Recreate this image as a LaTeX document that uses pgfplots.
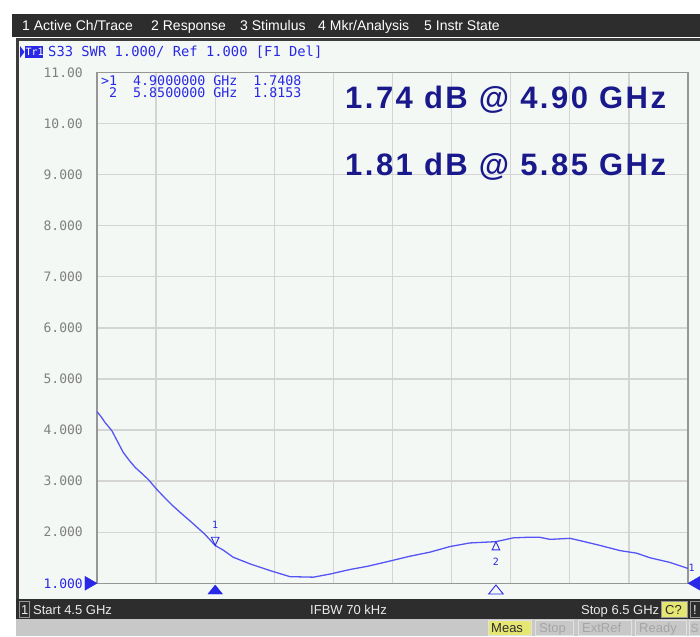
\documentclass[border=0pt]{standalone}
\usepackage{pgfplots}
\pgfplotsset{compat=1.18}
\usepackage{fontspec}
\setmainfont{Liberation Sans}
\newfontfamily\mono{DejaVu Sans Mono}
\newfontfamily\bigf[LetterSpace=8]{Liberation Sans}
\definecolor{winbg}{RGB}{244,248,244}
\definecolor{barc}{RGB}{45,45,45}
\definecolor{winframe}{RGB}{60,60,60}
\definecolor{tracec}{RGB}{85,85,245}
\definecolor{navy}{RGB}{25,25,140}
\definecolor{bluetxt}{RGB}{40,40,230}
\definecolor{gridc}{RGB}{212,212,212}
\definecolor{framec}{RGB}{150,150,150}
\definecolor{labelgray}{RGB}{128,128,128}
\definecolor{yel}{RGB}{230,230,115}
\definecolor{graybar}{RGB}{200,200,200}
\definecolor{btnborder}{RGB}{225,225,225}
\definecolor{btntext}{RGB}{165,165,165}
\definecolor{stattext}{RGB}{235,235,235}

\pgfplotstableread{
f v
4.500 4.36
4.514 4.26
4.527 4.15
4.550 3.99
4.570 3.77
4.589 3.56
4.610 3.40
4.629 3.27
4.650 3.16
4.674 3.03
4.702 2.84
4.730 2.67
4.758 2.51
4.787 2.36
4.815 2.22
4.840 2.09
4.865 1.96
4.900 1.74
4.927 1.65
4.961 1.51
5.018 1.38
5.085 1.25
5.153 1.13
5.232 1.12
5.288 1.18
5.356 1.27
5.413 1.33
5.480 1.42
5.559 1.53
5.627 1.61
5.695 1.72
5.762 1.79
5.850 1.815
5.909 1.89
5.954 1.90
5.999 1.90
6.033 1.86
6.101 1.88
6.146 1.82
6.203 1.74
6.270 1.64
6.326 1.59
6.371 1.50
6.438 1.41
6.500 1.29
}\swrdata

\begin{document}
\begin{tikzpicture}[x=1pt,y=1pt]
\useasboundingbox (0,0) rectangle (700,636);
\fill[white] (0,0) rectangle (700,636);
% menu bar
\fill[barc] (12,599) rectangle (700,622);
\begin{scope}[every node/.style={anchor=base west, inner sep=0pt, text=white, font=\fontsize{14}{14}\selectfont}]
\node at (22,605) {1 Active Ch/Trace};
\node at (151,605) {2 Response};
\node at (240,605) {3 Stimulus};
\node at (318,605) {4 Mkr/Analysis};
\node at (424,605) {5 Instr State};
\end{scope}
% window
\fill[winbg] (16,37) rectangle (700,597);
\draw[winframe, line width=3pt] (17.5,37) -- (17.5,596.5) -- (700,596.5);
% status bar
\fill[barc] (16,17) rectangle (700,37);
\fill[graybar] (16,0) rectangle (700,17);
\begin{scope}[every node/.style={anchor=base west, inner sep=0pt, text=stattext, font=\fontsize{13}{13}\selectfont}]
\draw[framec, fill=barc] (19,19) rectangle (29,35);
\node at (21,22) {1};
\node at (33,22) {Start 4.5 GHz};
\node at (310,22) {IFBW 70 kHz};
\node at (581,22) {Stop 6.5 GHz};
\end{scope}
\draw[framec, fill=yel] (661,19) rectangle (687,35);
\node[anchor=base west, inner sep=0pt, font=\fontsize{13}{13}\selectfont, text=barc] at (665,22) {C?};
\draw[framec, fill=barc] (690,19) rectangle (700,35);
\node[anchor=base west, inner sep=0pt, font=\fontsize{13}{13}\selectfont, text=stattext] at (693,22) {!};
% buttons
\draw[btnborder, fill=yel] (488,1) rectangle (531,16);
\node[anchor=base west, inner sep=0pt, font=\fontsize{13}{13}\selectfont, text=barc] at (491,4) {Meas};
\draw[btnborder] (535,1) rectangle (573,16);
\node[anchor=base west, inner sep=0pt, font=\fontsize{13}{13}\selectfont, text=btntext] at (539,4) {Stop};
\draw[btnborder] (578,1) rectangle (631,16);
\node[anchor=base west, inner sep=0pt, font=\fontsize{13}{13}\selectfont, text=btntext] at (582,4) {ExtRef};
\draw[btnborder] (635,1) rectangle (686,16);
\node[anchor=base west, inner sep=0pt, font=\fontsize{13}{13}\selectfont, text=btntext] at (639,4) {Ready};
\draw[btnborder] (689,1) rectangle (702,16);
\node[anchor=base west, inner sep=0pt, font=\fontsize{12}{12}\selectfont, text=btntext] at (690.5,4) {S};
% trace header
\fill[bluetxt] (20,578) -- (24.5,584) -- (20,590) -- cycle;
\fill[bluetxt] (25,578) rectangle (43,590);
\node[anchor=base west, inner sep=0pt, font=\mono\fontsize{10}{10}\selectfont, text=white] at (25.5,580) {Tr1};
\node[anchor=base west, inner sep=0pt, font=\mono\fontsize{13.8}{13.8}\selectfont, text=bluetxt] at (48,579) {S33 SWR 1.000/ Ref 1.000 [F1 Del]};

\begin{axis}[
  at={(97pt,52.7pt)}, anchor=south west,
  width=591pt, height=510.8pt, scale only axis,
  xmin=4.5, xmax=6.5, ymin=1, ymax=11,
  xtick={4.5,4.7,4.9,5.1,5.3,5.5,5.7,5.9,6.1,6.3,6.5},
  xticklabels={},
  ytick={1,2,3,4,5,6,7,8,9,10,11},
  yticklabels={{\textcolor{bluetxt}{1.000}},2.000,3.000,4.000,5.000,6.000,7.000,8.000,9.000,10.00,11.00},
  yticklabel style={font=\mono\fontsize{13}{13}\selectfont, text=labelgray, inner sep=0pt, anchor=east, xshift=-14pt},
  major tick length=0pt,
  grid=major,
  major grid style={gridc, line width=1.3pt},
  axis line style={framec, line width=1.3pt},
  axis background/.style={fill=winbg},
  clip=false,
]
\addplot[tracec, line width=1.3pt] table[x=f, y=v] {\swrdata};
% stimulus markers below the axis
\addplot[only marks, mark=triangle*, mark size=6pt, mark options={fill=bluetxt, draw=bluetxt, xscale=1.4}] coordinates {(4.9,0.849)};
\addplot[only marks, mark=triangle, mark size=6pt, mark options={draw=bluetxt, fill=winbg, xscale=1.4, line width=0.9pt}] coordinates {(5.85,0.849)};
% reference-level arrows
\addplot[only marks, mark=triangle*, mark size=8pt, mark options={rotate=-90, fill=bluetxt, draw=bluetxt}] coordinates {(4.4729,1)};
\addplot[only marks, mark=triangle*, mark size=8pt, mark options={rotate=90, fill=bluetxt, draw=bluetxt}] coordinates {(6.5271,1)};
% markers on the trace
\addplot[only marks, mark=triangle, mark size=5.5pt, mark options={rotate=180, draw=bluetxt, line width=0.9pt, xscale=0.8}] coordinates {(4.9,1.848)};
\addplot[only marks, mark=triangle, mark size=5.5pt, mark options={draw=bluetxt, line width=0.9pt, xscale=0.8}] coordinates {(5.85,1.707)};
\node[font=\mono\fontsize{10}{10}\selectfont, text=bluetxt, inner sep=0pt] at (axis cs:4.9,2.141) {1};
\node[font=\mono\fontsize{10}{10}\selectfont, text=bluetxt, inner sep=0pt] at (axis cs:5.85,1.417) {2};
\node[font=\mono\fontsize{10}{10}\selectfont, text=bluetxt, inner sep=0pt] at (axis cs:6.512,1.30) {1};
\end{axis}

% marker table
\node[anchor=base west, inner sep=0pt, font=\mono\fontsize{13.3}{13.3}\selectfont, text=bluetxt] at (101,550) {>1~~4.9000000~GHz~~1.7408};
\node[anchor=base west, inner sep=0pt, font=\mono\fontsize{13.3}{13.3}\selectfont, text=bluetxt] at (101,538) {~2~~5.8500000~GHz~~1.8153};
% big annotations
\node[anchor=base west, inner sep=0pt, font=\bigf\bfseries\fontsize{31}{31}\selectfont, text=navy] at (345,527) {1.74 dB @ 4.90 GHz};
\node[anchor=base west, inner sep=0pt, font=\bigf\bfseries\fontsize{31}{31}\selectfont, text=navy] at (345,460) {1.81 dB @ 5.85 GHz};
\end{tikzpicture}
\end{document}
